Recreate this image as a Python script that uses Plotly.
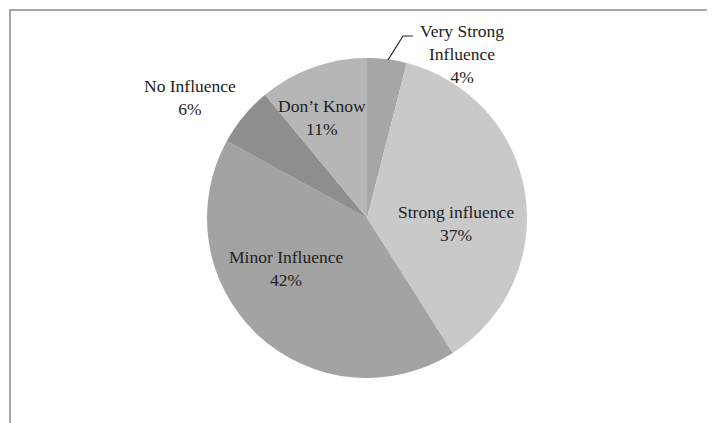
import plotly.graph_objects as go

labels = ["Very Strong<br>Influence", "Strong influence", "Minor Influence", "No Influence", "Don\u2019t Know"]
values = [4, 37, 42, 6, 11]
colors = ["#a6a6a6", "#c9c9c9", "#a3a3a3", "#8e8e8e", "#b6b6b6"]

W, H = 715, 423
OFF = 8  # page body margin in the viewer
# label centres (pixels) for each slice label
label_pos = [(462, 54), (456, 224), (286, 268), (190, 98), (322, 118)]

fig = go.Figure()
fig.add_trace(go.Pie(
    labels=labels,
    values=values,
    sort=False,
    direction="clockwise",
    rotation=0,
    marker=dict(colors=colors, line=dict(width=0)),
    textinfo="none",
    hoverinfo="label+percent",
    showlegend=False,
    domain=dict(x=[(207 - OFF) / W, (527 - OFF) / W],
                y=[(45 + OFF) / H, (365 + OFF) / H]),
))


def X(x):
    return (x - OFF) / W


def Y(y):
    return 1 - (y - OFF) / H


for lab, val, (px, py) in zip(labels, values, label_pos):
    fig.add_annotation(
        x=X(px), y=Y(py), xref="paper", yref="paper",
        text=f"{lab}<br>{val}%", showarrow=False,
        font=dict(family="Liberation Serif", size=17.5, color="#222222"),
        align="center", xanchor="center", yanchor="middle",
    )


def P(x, y):
    return f"{X(x)},{Y(y)}"


# frame (top and left edges)
fig.add_shape(type="path", xref="paper", yref="paper",
              path=f"M {P(10, 440)} L {P(10, 10)} L {P(730, 10)}",
              line=dict(color="#8a8a8a", width=1.5))
# leader line for the very-strong label
fig.add_shape(type="path", xref="paper", yref="paper",
              path=f"M {P(388, 60)} L {P(403, 36)} L {P(413, 36)}",
              line=dict(color="#222222", width=1.2))

fig.update_layout(
    width=W, height=H,
    margin=dict(l=0, r=0, t=0, b=0),
    paper_bgcolor="white", plot_bgcolor="white",
)
fig.write_html("out.html")
